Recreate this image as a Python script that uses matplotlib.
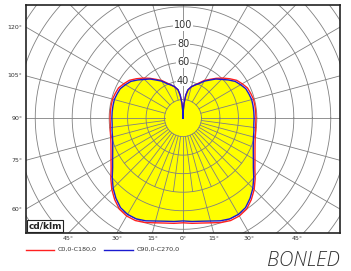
import numpy as np
import matplotlib
matplotlib.use('Agg')
import matplotlib.pyplot as plt
from matplotlib.lines import Line2D

# gamma angle (deg, 0 = straight down) and intensity in cd/klm
gamma = [0, 5, 10, 15, 20, 25, 30, 35, 40, 45, 50, 55, 60, 65, 70, 75, 80, 85, 90,
         95, 100, 105, 110, 115, 120, 125, 130, 135, 140, 145, 150, 155, 160, 165,
         170, 173, 176, 178, 180]
r_c0_c180 = [113, 114, 115, 117, 120, 122, 122, 120, 115, 109, 102, 95, 90, 86, 83, 81,
             80, 79, 79, 79, 79, 79, 78, 77, 74, 71, 66, 61, 56, 51, 47, 42, 38, 35,
             31, 25, 16, 8, 0]
r_c90_c270 = [111, 112, 113, 115, 118, 120, 120, 118, 113, 107, 100, 93, 88, 84, 81, 79,
              78, 77, 77, 77, 77, 77, 76, 75, 72, 69, 64, 59, 55, 50, 46, 41, 38, 35,
              31, 25, 16, 8, 0]

ring_labels = [40, 60, 80, 100]
side_angles = [60, 75, 90, 105, 120]
bottom_angles = [-45, -30, -15, 0, 15, 30, 45]
legend_labels = ['C0,0-C180,0', 'C90,0-C270,0']

xmin, xmax, ymin, ymax = -170, 170, -124, 122
grid_col = '#808080'


def to_xy(g, r):
    g = np.radians(np.asarray(g, dtype=float))
    r = np.asarray(r, dtype=float)
    return r * np.sin(g), -r * np.cos(g)


def full_curve(g, r):
    g = np.asarray(g, dtype=float)
    r = np.asarray(r, dtype=float)
    gg = np.concatenate([-g[::-1], g[1:]])
    rr = np.concatenate([r[::-1], r[1:]])
    return to_xy(gg, rr)


fig = plt.figure(figsize=(3.51, 2.71), dpi=100)
ax = fig.add_axes([26 / 351, 1 - 233 / 271, 314 / 351, 228 / 271])
ax.set_xlim(xmin, xmax)
ax.set_ylim(ymin, ymax)
ax.set_aspect('auto')
ax.set_xticks([])
ax.set_yticks([])
for s in ax.spines.values():
    s.set_linewidth(1.2)
    s.set_color('#222222')
    s.set_zorder(6)

# yellow fill
bx, by = full_curve(gamma, r_c90_c270)
ax.fill(bx, by, color='#ffff00', lw=0, zorder=1)

# grid circles
t = np.linspace(0, 2 * np.pi, 400)
for rc in range(20, 260, 20):
    ax.plot(rc * np.cos(t), rc * np.sin(t), color=grid_col, lw=0.6, zorder=2)

# radial lines
for a in range(0, 360, 15):
    x0, y0 = to_xy(a, 20)
    x1, y1 = to_xy(a, 260)
    ax.plot([x0, x1], [y0, y1], color=grid_col, lw=0.6, zorder=2)
for a in np.arange(-82.5, 90, 15):
    x0, y0 = to_xy(a, 20)
    x1, y1 = to_xy(a, 80)
    ax.plot([x0, x1], [y0, y1], color=grid_col, lw=0.6, zorder=2)

# intensity curves
rx, ry = full_curve(gamma, r_c0_c180)
ax.plot(rx, ry, color='#ff2020', lw=1.0, zorder=4)
ax.plot(bx, by, color='#1a1ad0', lw=1.0, zorder=4)

for v in ring_labels:
    ax.text(0, v, str(v), ha='center', va='center', fontsize=7, color='#333333',
            zorder=5, bbox=dict(facecolor='white', edgecolor='none', pad=0.3))

for a in side_angles:
    k = xmin / -np.sin(np.radians(a))
    y = -np.cos(np.radians(a)) * k
    ax.text(xmin - 4, y, f'{a}°', ha='right', va='center', fontsize=4.5,
            color='#333333', clip_on=False)
for a in bottom_angles:
    k = ymin / -np.cos(np.radians(a))
    x = np.sin(np.radians(a)) * k
    ax.text(x, ymin - 6, f'{abs(a)}°', ha='center', va='center', fontsize=4.5,
            color='#333333', clip_on=False)

ax.text(xmin + 2.5, ymin + 3, 'cd/klm', ha='left', va='bottom', fontsize=6.5,
        fontweight='bold', color='#222222', zorder=7,
        bbox=dict(facecolor='white', edgecolor='#222222', lw=0.8, pad=1.2))

# legend
ly = 1 - 249.5 / 271
fig.add_artist(Line2D([26 / 351, 54 / 351], [ly, ly], color='#ff2020', lw=1.0))
fig.text(57.5 / 351, ly, legend_labels[0], fontsize=4.6, va='center', color='#333333')
fig.add_artist(Line2D([104 / 351, 133 / 351], [ly, ly], color='#1a1ad0', lw=1.0))
fig.text(136.5 / 351, ly, legend_labels[1], fontsize=4.6, va='center', color='#333333')

fig.text(340 / 351, 1 - 261 / 271, 'BONLED', fontsize=14.5, style='italic',
         family='Open Sans', fontweight='light', color='#333333', ha='right', va='center')

fig.savefig('out.png', dpi=100)
